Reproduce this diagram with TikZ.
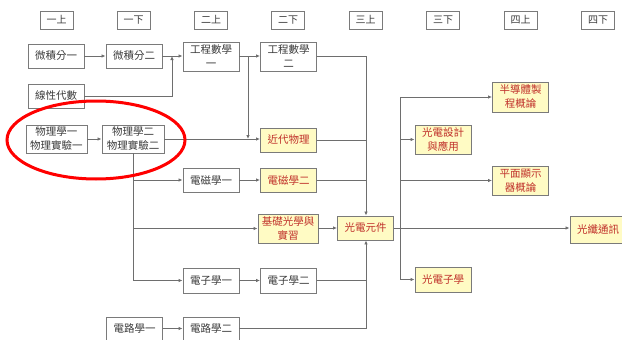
\documentclass[tikz,border=0pt]{standalone}
\usepackage{fontspec}
\setmainfont{Noto Sans CJK TC}
\usetikzlibrary{arrows.meta}
\definecolor{boxline}{HTML}{7A7A7A}
\definecolor{wire}{HTML}{6E6E6E}
\definecolor{txt}{HTML}{3A3A3A}
\definecolor{redtxt}{HTML}{C0302A}
\definecolor{yfill}{HTML}{FFFBC4}
\tikzset{
  box/.style={draw=boxline, line width=0.9pt, fill=white, inner sep=0pt, align=center,
    text=txt, font=\fontsize{10.5}{14}\selectfont, minimum width=56pt, minimum height=24pt},
  ybox/.style={box, fill=yfill, text=redtxt},
  hbox/.style={draw=boxline, line width=0.9pt, inner sep=0pt, text=txt,
    font=\fontsize{10}{12}\selectfont, minimum width=33pt, minimum height=18pt},
  wire/.style={draw=wire, line width=0.8pt},
  arr/.style={wire, -{Latex[length=4pt,width=3.5pt]}},
}
\begin{document}
\begin{tikzpicture}[x=1pt,y=-1pt]
\useasboundingbox (0,0) rectangle (622,340);
% headers
\node[hbox] (h1) at (56.5,20) {一上};
\node[hbox] (h2) at (133.5,20) {一下};
\node[hbox] (h3) at (211,20) {二上};
\node[hbox] (h4) at (288,20) {二下};
\node[hbox] (h5) at (365.5,20) {三上};
\node[hbox] (h6) at (443,20) {三下};
\node[hbox] (h7) at (520.5,20) {四上};
\node[hbox] (h8) at (598,20) {四下};
% nodes
\node[box] (wj1) at (56,56) {微積分一};
\node[box] (wj2) at (134,56) {微積分二};
\node[box, minimum height=29pt] (gc1) at (211,56.5) {工程數學\\一};
\node[box, minimum height=29pt] (gc2) at (288.5,56.5) {工程數學\\二};
\node[box] (xx) at (56,96) {線性代數};
\node[box, minimum width=61pt, minimum height=28pt] (wl1) at (56.5,139) {物理學一\\物理實驗一};
\node[box, minimum width=62pt, minimum height=28pt] (wl2) at (133,139) {物理學二\\物理實驗二};
\node[ybox] (jd) at (288.5,140) {近代物理};
\node[box] (dc1) at (211,180) {電磁學一};
\node[ybox] (dc2) at (288.5,180) {電磁學二};
\node[ybox, minimum width=60pt, minimum height=29pt] (jc) at (288,228.5) {基礎光學與\\實習};
\node[box, minimum height=25pt] (dz1) at (211,280.5) {電子學一};
\node[box, minimum height=25pt] (dz2) at (288.5,280.5) {電子學二};
\node[box, minimum height=23pt] (dl1) at (134.5,328.5) {電路學一};
\node[box, minimum height=23pt] (dl2) at (211,328.5) {電路學二};
\node[ybox] (gd) at (365.5,228) {光電元件};
\node[ybox, minimum height=30pt] (bd) at (520.5,97) {半導體製\\程概論};
\node[ybox, minimum height=29pt] (gs) at (443,139.5) {光電設計\\與應用};
\node[ybox, minimum height=29pt] (pm) at (520.5,180.5) {平面顯示\\器概論};
\node[ybox, minimum height=27pt] (gx) at (598,229.5) {光纖通訊};
\node[ybox, minimum height=25pt] (gz) at (443,279.5) {光電子學};
% junction coordinates
\coordinate (ja) at (172,56);
\coordinate (jb) at (248,56);
\coordinate (jm) at (366,56);
\coordinate (jp) at (133,153);
% connectors
\draw[arr] (wj1.east |- 0,56) -- (wj2.west |- 0,56);
\draw[arr] (wj2.east |- 0,56) -- (gc1.west |- 0,56);
\draw[arr] (xx.east) -- (172,96) -- (ja);
\draw[arr] (gc1.east |- 0,56) -- (gc2.west |- 0,56);
\draw[arr] (jb) -- (248,139);
\draw[arr] (wl1) -- (wl2);
\draw[arr] (wl2.east |- 0,139) -- (jd.west |- 0,139);
\draw[arr] (gc2.east |- 0,56) -- (jm) -- (gd.north -| jm);
\draw[wire] (jd.east) -- (jd.east -| jm);
\draw[wire] (dc2.east) -- (dc2.east -| jm);
\draw[wire] (dz2.east) -- (dz2.east -| jm);
\draw[arr] (dl2.east) -- (dl2.east -| jm) -- (gd.south -| jm);
\draw[arr] (jp) -- (133,280.5) -- (dz1.west);
\draw[arr] (133,180) -- (dc1.west);
\draw[arr] (133,228.5) -- (jc.west);
\draw[arr] (dc1) -- (dc2);
\draw[arr] (dz1) -- (dz2);
\draw[arr] (dl1) -- (dl2);
\draw[arr] (jc.east |- gd.west) -- (gd.west);
\draw[arr] (gd.east) -- (gx.west |- gd.east);
\draw[arr] (400,97) -- (bd.west);
\draw[wire] (400,97) -- (400,279.5);
\draw[arr] (400,139.5) -- (gs.west);
\draw[arr] (400,180.5) -- (pm.west);
\draw[arr] (400,279.5) -- (gz.west);
% highlight ellipse
\draw[red, line width=3pt] (96,140) ellipse [x radius=89, y radius=39];
\end{tikzpicture}
\end{document}
